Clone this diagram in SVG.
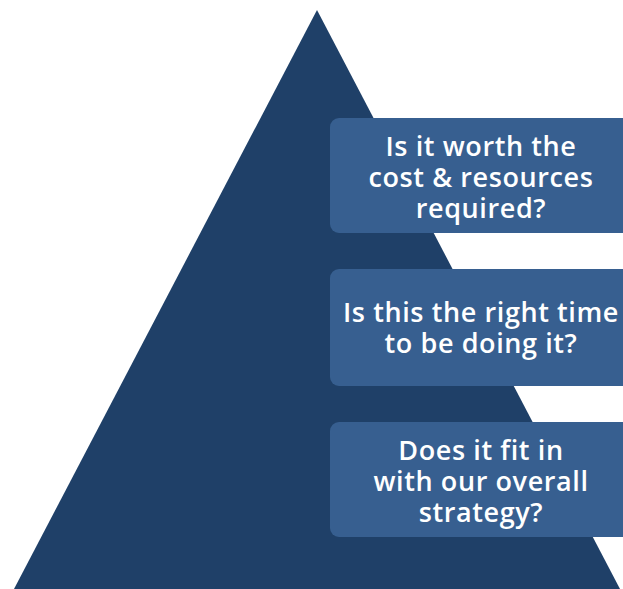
<svg xmlns="http://www.w3.org/2000/svg" width="623" height="589" viewBox="0 0 623 589">
<style>
.box{fill:#375F90;}
.t{font-family:"Open Sans","Liberation Sans",sans-serif;font-weight:600;font-size:27px;letter-spacing:0.6px;fill:#FFFFFF;text-anchor:middle;font-variant-ligatures:none;}
</style>
<rect width="623" height="589" fill="#FFFFFF"/>
<g id="pyramid"><polygon points="317,10 14,589 620,589" fill="#1F4068"/></g>
<g id="q1">
<rect class="box" x="330" y="118" width="310" height="115" rx="9"/>
<text class="t" x="481" y="156"><tspan x="481" y="156">Is it worth the</tspan><tspan x="481" y="187">cost &amp; resources</tspan><tspan x="481" y="218">required?</tspan></text>
</g>
<g id="q2">
<rect class="box" x="330" y="269" width="310" height="117" rx="9"/>
<text class="t" x="481" y="322"><tspan x="481" y="322">Is this the right time</tspan><tspan x="481" y="353">to be doing it?</tspan></text>
</g>
<g id="q3">
<rect class="box" x="330" y="422" width="310" height="115" rx="9"/>
<text class="t" x="481" y="460"><tspan x="481" y="460">Does it fit in</tspan><tspan x="481" y="491">with our overall</tspan><tspan x="481" y="522">strategy?</tspan></text>
</g>
<g id="connectors"></g>
</svg>
